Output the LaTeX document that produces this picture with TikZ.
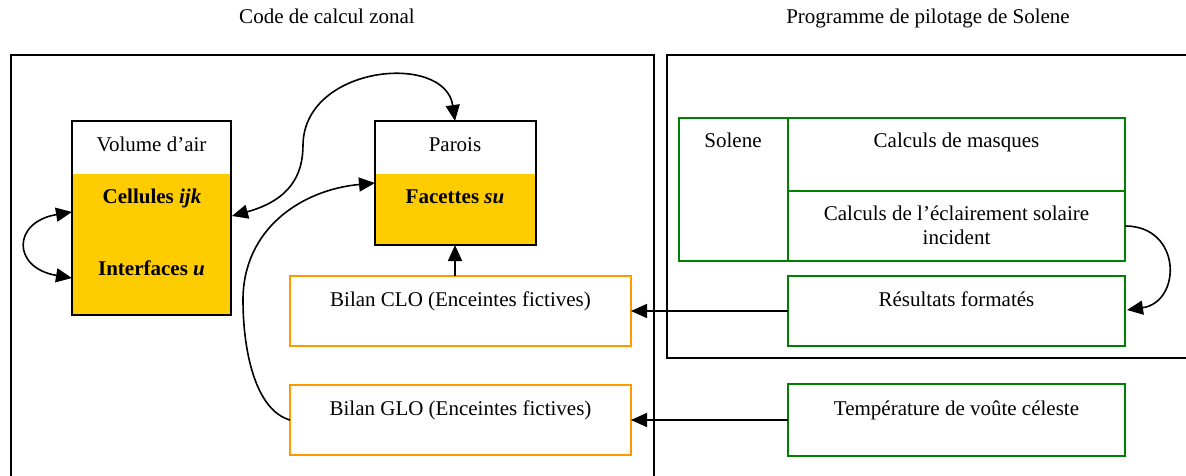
\documentclass[tikz,border=0pt]{standalone}
\usepackage{fontspec}
\setmainfont{Liberation Serif}
\usetikzlibrary{arrows.meta,calc,backgrounds}
\definecolor{ylw}{RGB}{255,204,0}
\definecolor{org}{RGB}{255,153,0}
\definecolor{grn}{RGB}{0,128,0}
\tikzset{
  txt/.style={font=\fontsize{21}{23.5}\selectfont, inner sep=0pt, anchor=base, align=center},
  boxbase/.style={draw, inner sep=0pt, outer sep=0pt, line width=1.4pt},
  kbox/.style={boxbase, draw=black},
  obox/.style={boxbase, draw=org},
  gbox/.style={boxbase, draw=grn},
  frame/.style={draw, line width=1.6pt},
  conn/.style={line width=1.6pt, -{Triangle[length=16pt,width=14pt]}},
  dconn/.style={line width=1.6pt, {Triangle[length=16pt,width=14pt]}-{Triangle[length=16pt,width=14pt]}},
}
\begin{document}
\begin{tikzpicture}[x=1pt,y=-1pt]
\useasboundingbox (0,0) rectangle (1186,476);
% frames
\draw[frame] (11,55) rectangle (654,500);
\draw[frame] (667,55) rectangle (1200,358);
% titles
\node[txt] (title1) at (327,24) {Code de calcul zonal};
\node[txt] (title2) at (928,24) {Programme de pilotage de Solene};
% boxes
\node[kbox, minimum width=159, minimum height=194] (vol) at (151.5,218) {};
\node[kbox, minimum width=161, minimum height=124] (par) at (455.5,183) {};
\node[obox, minimum width=341, minimum height=70] (clo) at (460.5,311) {};
\node[obox, minimum width=341, minimum height=70] (glo) at (460.5,420) {};
\node[gbox, minimum width=109, minimum height=143] (sol) at (733.5,189.5) {};
\node[gbox, minimum width=337, minimum height=73] (mas) at (956.5,154.5) {};
\node[gbox, minimum width=337, minimum height=70] (ecl) at (956.5,226) {};
\node[gbox, minimum width=337, minimum height=70] (res) at (956.5,311) {};
\node[gbox, minimum width=337, minimum height=72] (tmp) at (956.5,420) {};
% yellow parts
\begin{scope}[on background layer]
\fill[ylw] ($(vol.north west)+(0,53)$) rectangle (vol.south east);
\fill[ylw] ($(par.north west)+(0,53)$) rectangle (par.south east);
\end{scope}
% texts
\node[txt] (t-vol) at (151.5,152) {Volume d’air};
\node[txt] (t-cel) at (152,204) {\bfseries Cellules \textit{ijk}};
\node[txt] (t-int) at (151.5,275) {\bfseries Interfaces \textit{u}};
\node[txt] (t-par) at (455,151) {Parois};
\node[txt] (t-fac) at (455,204) {\bfseries Facettes \textit{su}};
\node[txt] (t-clo) at (460.5,306) {Bilan CLO (Enceintes fictives)};
\node[txt] (t-glo) at (460.5,415) {Bilan GLO (Enceintes fictives)};
\node[txt] (t-sol) at (733,148) {Solene};
\node[txt] (t-mas) at (956.5,148) {Calculs de masques};
\node[txt] (t-ecl) at (956.5,244) {Calculs de l’éclairement solaire\\incident};
\node[txt] (t-res) at (956.5,306) {Résultats formatés};
\node[txt] (t-tmp) at (956.5,415) {Température de voûte céleste};
% connectors
\coordinate (vA) at ($(vol.north west)+(0,91)$);
\coordinate (vB) at ($(vol.north west)+(0,157)$);
\draw[dconn] (vA) .. controls (12,222) and (12,268) .. (vB);
\coordinate (vC) at ($(vol.north east)+(1,95)$);
\coordinate (pT) at ($(par.north west)+(80,0)$);
\draw[dconn] (vC) .. controls (290,200) and (303,175) .. (303,145)
  .. controls (304,65) and (445,52) .. (pT);
\coordinate (pL) at ($(par.north west)+(0,62)$);
\draw[conn] (glo.west) .. controls (255,410) and (243,350) .. (243,300)
  .. controls (243,230) and (300,190) .. (pL);
\draw[conn] (clo.north -| pT) -- (par.south -| pT);
\draw[conn] (res.west) -- (clo.east);
\draw[conn] (tmp.west) -- (glo.east);
\draw[conn] (ecl.east) .. controls (1182,226) and (1182,302) .. ($(res.east)+(2,-1)$);
\end{tikzpicture}
\end{document}
